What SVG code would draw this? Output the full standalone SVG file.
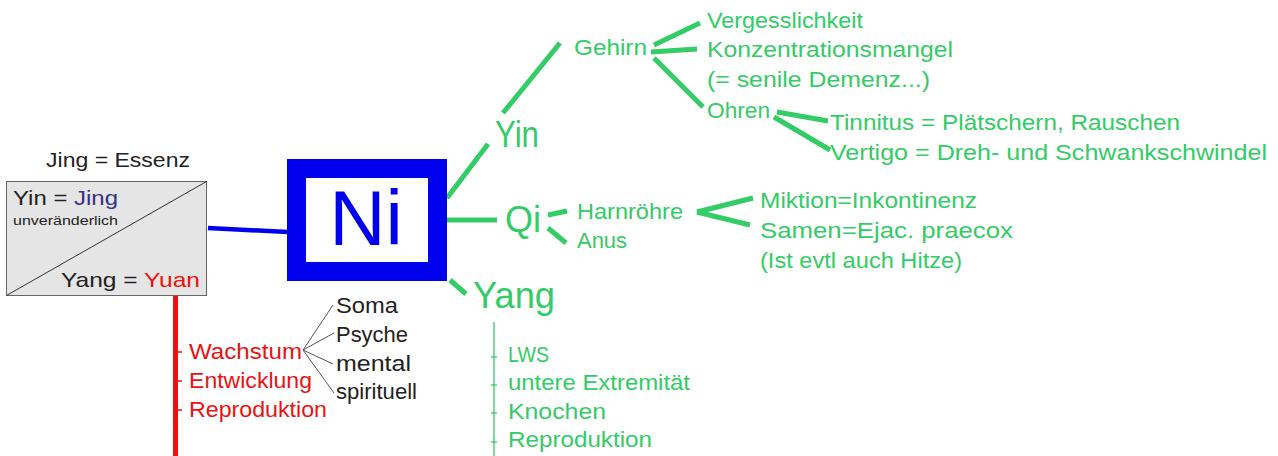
<svg xmlns="http://www.w3.org/2000/svg" width="1278" height="456" viewBox="0 0 1278 456">
<style>
text{font-family:"Liberation Sans",Arial,sans-serif;}
.g{fill:#33cc66;font-size:22px;}
.gb{fill:#33cc66;font-size:36px;}
.r{fill:#ee1111;font-size:22px;}
.k{fill:#222;font-size:22px;}
.gl{stroke:#33cc66;stroke-width:5;fill:none;stroke-linecap:butt;}
.gt{stroke:#33cc66;stroke-width:1.3;fill:none;}
.kt{stroke:#555;stroke-width:1;fill:none;}
</style>
<rect width="1278" height="456" fill="#fff"/>
<g id="connectors">
  <line x1="208" y1="228" x2="288" y2="232" stroke="#0000ee" stroke-width="4.5"/>
  <line x1="175.5" y1="296" x2="175.5" y2="456" stroke="#ee1111" stroke-width="5"/>
  <g stroke="#ee1111" stroke-width="1.5">
    <line x1="178" y1="352" x2="182" y2="352"/>
    <line x1="178" y1="381" x2="182" y2="381"/>
    <line x1="178" y1="410" x2="182" y2="410"/>
  </g>
  <line class="kt" x1="303" y1="350" x2="333" y2="305"/>
  <line class="kt" x1="303" y1="350" x2="334" y2="333"/>
  <line class="kt" x1="303" y1="350" x2="333" y2="364"/>
  <line class="kt" x1="303" y1="350" x2="334" y2="393"/>
  <line class="gl" x1="447" y1="198" x2="488" y2="144"/>
  <line class="gl" x1="503" y1="113" x2="560" y2="43"/>
  <line class="gl" x1="654" y1="45" x2="700" y2="23"/>
  <line class="gl" x1="651" y1="52" x2="697" y2="49"/>
  <line class="gl" x1="654" y1="58" x2="703" y2="107"/>
  <line class="gl" x1="777" y1="112" x2="828" y2="121"/>
  <line class="gl" x1="774" y1="117" x2="830" y2="150"/>
  <line class="gl" x1="445" y1="220" x2="497" y2="220"/>
  <line class="gl" x1="548" y1="215" x2="567" y2="211"/>
  <line class="gl" x1="548" y1="228" x2="566" y2="243"/>
  <line class="gl" x1="753" y1="198" x2="697" y2="212"/>
  <line class="gl" x1="697" y1="212" x2="750" y2="225"/>
  <line class="gl" x1="450" y1="280" x2="466" y2="294"/>
  <line class="gt" x1="494" y1="322" x2="494" y2="456"/>
  <g class="gt">
    <line x1="491" y1="357" x2="497" y2="357"/>
    <line x1="491" y1="385" x2="497" y2="385"/>
    <line x1="491" y1="413" x2="497" y2="413"/>
    <line x1="491" y1="442" x2="497" y2="442"/>
  </g>
</g>
<g id="jing">
  <text x="46" y="167" font-size="21" fill="#222" textLength="144" lengthAdjust="spacingAndGlyphs">Jing = Essenz</text>
  <rect x="6.5" y="181.5" width="200" height="114" fill="#e5e5e5" stroke="#666" stroke-width="1"/>
  <line x1="6.5" y1="295.5" x2="206.5" y2="181.5" stroke="#333" stroke-width="1"/>
  <text x="13" y="205" font-size="21" fill="#222" textLength="105" lengthAdjust="spacingAndGlyphs">Yin = <tspan fill="#333388">Jing</tspan></text>
  <text x="13" y="225" font-size="13" fill="#222" textLength="105" lengthAdjust="spacingAndGlyphs">unveränderlich</text>
  <text x="61" y="287" font-size="21" fill="#222" textLength="139" lengthAdjust="spacingAndGlyphs">Yang = <tspan fill="#ee1111">Yuan</tspan></text>
</g>
<g id="ni">
  <rect x="296.5" y="168.5" width="141" height="103" fill="#fff" stroke="#0000ee" stroke-width="19"/>
  <text x="366" y="245" font-size="78" fill="#0000ee" text-anchor="middle">Ni</text>
</g>
<g id="yuan-list">
  <text class="r" x="189" y="359" textLength="113" lengthAdjust="spacingAndGlyphs">Wachstum</text>
  <text class="r" x="189" y="388" textLength="123" lengthAdjust="spacingAndGlyphs">Entwicklung</text>
  <text class="r" x="189" y="417" textLength="138" lengthAdjust="spacingAndGlyphs">Reproduktion</text>
</g>
<g id="wachstum-list">
  <text class="k" x="336" y="313" textLength="62" lengthAdjust="spacingAndGlyphs">Soma</text>
  <text class="k" x="336" y="342" textLength="72" lengthAdjust="spacingAndGlyphs">Psyche</text>
  <text class="k" x="336" y="371" textLength="75" lengthAdjust="spacingAndGlyphs">mental</text>
  <text class="k" x="336" y="399" textLength="81" lengthAdjust="spacingAndGlyphs">spirituell</text>
</g>
<g id="yin">
  <text class="gb" x="495" y="147" textLength="44" lengthAdjust="spacingAndGlyphs">Yin</text>
</g>
<g id="gehirn">
  <text class="g" x="574" y="55" textLength="73" lengthAdjust="spacingAndGlyphs">Gehirn</text>
</g>
<g id="gehirn-list">
  <text class="g" x="707" y="28" textLength="156" lengthAdjust="spacingAndGlyphs">Vergesslichkeit</text>
  <text class="g" x="707" y="57" textLength="246" lengthAdjust="spacingAndGlyphs">Konzentrationsmangel</text>
  <text class="g" x="707" y="87" textLength="223" lengthAdjust="spacingAndGlyphs">(= senile Demenz...)</text>
</g>
<g id="ohren">
  <text class="g" x="707" y="118" textLength="63" lengthAdjust="spacingAndGlyphs">Ohren</text>
</g>
<g id="ohren-list">
  <text class="g" x="830" y="130" textLength="350" lengthAdjust="spacingAndGlyphs">Tinnitus = Plätschern, Rauschen</text>
  <text class="g" x="830" y="160" textLength="437" lengthAdjust="spacingAndGlyphs">Vertigo = Dreh- und Schwankschwindel</text>
</g>
<g id="qi">
  <text class="gb" x="505" y="232" textLength="36" lengthAdjust="spacingAndGlyphs">Qi</text>
</g>
<g id="harnroehre">
  <text class="g" x="577" y="219" textLength="106" lengthAdjust="spacingAndGlyphs">Harnröhre</text>
</g>
<g id="anus">
  <text class="g" x="577" y="248" textLength="50" lengthAdjust="spacingAndGlyphs">Anus</text>
</g>
<g id="harnroehre-list">
  <text class="g" x="760" y="208" textLength="217" lengthAdjust="spacingAndGlyphs">Miktion=Inkontinenz</text>
  <text class="g" x="760" y="238" textLength="253" lengthAdjust="spacingAndGlyphs">Samen=Ejac. praecox</text>
  <text class="g" x="760" y="268" textLength="202" lengthAdjust="spacingAndGlyphs">(Ist evtl auch Hitze)</text>
</g>
<g id="yang">
  <text class="gb" x="473" y="308" textLength="82" lengthAdjust="spacingAndGlyphs">Yang</text>
</g>
<g id="yang-list">
  <text class="g" x="508" y="362" textLength="41" lengthAdjust="spacingAndGlyphs">LWS</text>
  <text class="g" x="508" y="390" textLength="182" lengthAdjust="spacingAndGlyphs">untere Extremität</text>
  <text class="g" x="508" y="419" textLength="98" lengthAdjust="spacingAndGlyphs">Knochen</text>
  <text class="g" x="508" y="447" textLength="144" lengthAdjust="spacingAndGlyphs">Reproduktion</text>
</g>
</svg>
